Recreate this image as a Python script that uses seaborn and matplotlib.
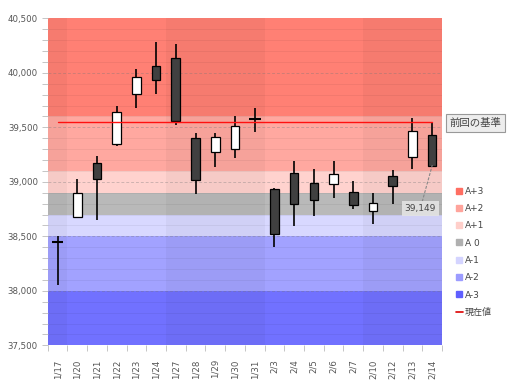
import matplotlib
matplotlib.use("Agg")
import matplotlib.pyplot as plt
from matplotlib.lines import Line2D
from matplotlib.ticker import FuncFormatter, MultipleLocator, FixedLocator
import seaborn as sns

dates = ['1/17', '1/20', '1/21', '1/22', '1/23', '1/24', '1/27', '1/28', '1/29', '1/30',
         '1/31', '2/3', '2/4', '2/5', '2/6', '2/7', '2/10', '2/12', '2/13', '2/14']
opens = [38450, 38675, 39170, 39350, 39810, 40065, 40135, 39405, 39270, 39300,
         39575, 38935, 39080, 38985, 38980, 38910, 38735, 39055, 39225, 39425]
highs = [38500, 39030, 39240, 39695, 40035, 40280, 40260, 39450, 39450, 39600,
         39680, 38945, 39190, 39115, 39190, 39005, 38895, 39110, 39585, 39540]
lows = [38050, 38670, 38650, 39330, 39680, 39805, 39520, 38885, 39135, 39220,
        39460, 38405, 38595, 38685, 38855, 38755, 38610, 38795, 39115, 39149]
closes = [38450, 38900, 39030, 39645, 39960, 39930, 39560, 39015, 39415, 39515,
          39575, 38520, 38795, 38830, 39070, 38790, 38805, 38960, 39465, 39149]

band_names = ['A+3', 'A+2', 'A+1', 'A 0', 'A-1', 'A-2', 'A-3']
band_hi = [40500, 39600, 39100, 38900, 38700, 38500, 38000]
band_lo = [39600, 39100, 38900, 38700, 38500, 38000, 37500]
band_colors = ['#ff8074', '#ffa8a0', '#ffd2ce', '#b9b9b9', '#d8d8ff', '#a2a2ff', '#7171ff']
legend_colors = ['#ff6e62', '#ffa49c', '#ffcfca', '#b0b0b0', '#d4d4ff', '#9c9cff', '#5f5fff']

# weeks drawn slightly darker (index ranges)
dark_weeks = [(0, 0), (6, 10), (16, 19)]

prev_base = 39545
current_value = 39149

sns.set_theme(style="white")
plt.rcParams['font.family'] = ['DejaVu Sans', 'Noto Sans CJK JP']

fig = plt.figure(figsize=(5.11, 3.80), dpi=100)
ax = fig.add_axes([0.0933, 0.0913, 0.7717, 0.8605])

for lo, hi, c in zip(band_lo, band_hi, band_colors):
    ax.axhspan(lo, hi, color=c, lw=0, zorder=0)
for a, b in dark_weeks:
    ax.axvspan(a - 0.5, b + 0.5, color='black', alpha=0.035, lw=0, zorder=0.5)

# grid
for y in range(37600, 40500, 100):
    if y % 500 == 0:
        ax.axhline(y, color='#777777', lw=0.7, ls=(0, (3, 2)), alpha=0.35, zorder=1)
    else:
        ax.axhline(y, color='black', lw=0.5, alpha=0.07, zorder=1)

x = list(range(len(dates)))
for i in x:
    o, h, l, c = opens[i], highs[i], lows[i], closes[i]
    ax.vlines(i, l, h, color='black', lw=1.2, zorder=3)
    if o == c:
        ax.hlines(o, i - 0.3, i + 0.3, color='black', lw=1.5, zorder=4)
    else:
        fc = 'white' if c > o else '#404040'
        ax.bar(i, abs(c - o), bottom=min(o, c), width=0.44, color=fc,
               edgecolor='black', linewidth=0.9, zorder=4)

ax.plot([0, len(dates) - 1], [prev_base, prev_base], color='#ff1010', lw=1.0, zorder=5)
ax.text(len(dates) - 0.1, prev_base - 5, '前回の基準', fontsize=7.5, color='#444444',
        va='center', ha='left', family=['Noto Sans CJK JP', 'DejaVu Sans'],
        bbox=dict(boxstyle='square,pad=0.35', fc='#ededed', ec='#999999', lw=0.8),
        clip_on=False, zorder=6)

ax.annotate(f'{current_value:,}', xy=(len(dates) - 1, current_value),
            xytext=(18.4, 38755), fontsize=6.5, color='#444444', ha='center', va='center',
            bbox=dict(boxstyle='square,pad=0.3', fc='#e4e4e4', ec='none', alpha=0.9),
            arrowprops=dict(arrowstyle='-', color='#888888', lw=0.8, ls=(0, (2, 2)),
                            shrinkA=0, shrinkB=0), zorder=6)

ax.set_xlim(-0.5, len(dates) - 0.5)
ax.set_ylim(37500, 40500)
ax.set_xticks(x)
ax.set_xticklabels(dates, rotation=90, fontsize=6.2, color='#555555')
ax.xaxis.set_minor_locator(FixedLocator([i + 0.5 for i in range(-1, len(dates))]))
ax.yaxis.set_major_locator(MultipleLocator(500))
ax.yaxis.set_minor_locator(MultipleLocator(100))
ax.yaxis.set_major_formatter(FuncFormatter(lambda v, p: f'{int(v):,}'))
ax.tick_params(axis='y', which='both', left=True, length=4, width=0.6, color='#bbbbbb',
               labelsize=6.2, labelcolor='#555555', pad=3)
ax.tick_params(axis='x', which='major', bottom=False, pad=4)
ax.tick_params(axis='x', which='minor', bottom=True, length=4, width=0.6, color='#bbbbbb')
for s in ax.spines.values():
    s.set_visible(False)

handles = [Line2D([], [], marker='s', ls='none', color=c, markersize=4) for c in legend_colors]
handles.append(Line2D([], [], color='#dd0000', lw=1.2))
labels = band_names + ['現在値']
fig.legend(handles, labels, loc='upper left', bbox_to_anchor=(0.876, 0.53), frameon=False,
           fontsize=6.5, handlelength=0.8, handletextpad=0.25, labelspacing=0.92,
           labelcolor='#444444')

fig.savefig('out.png', dpi=100)
